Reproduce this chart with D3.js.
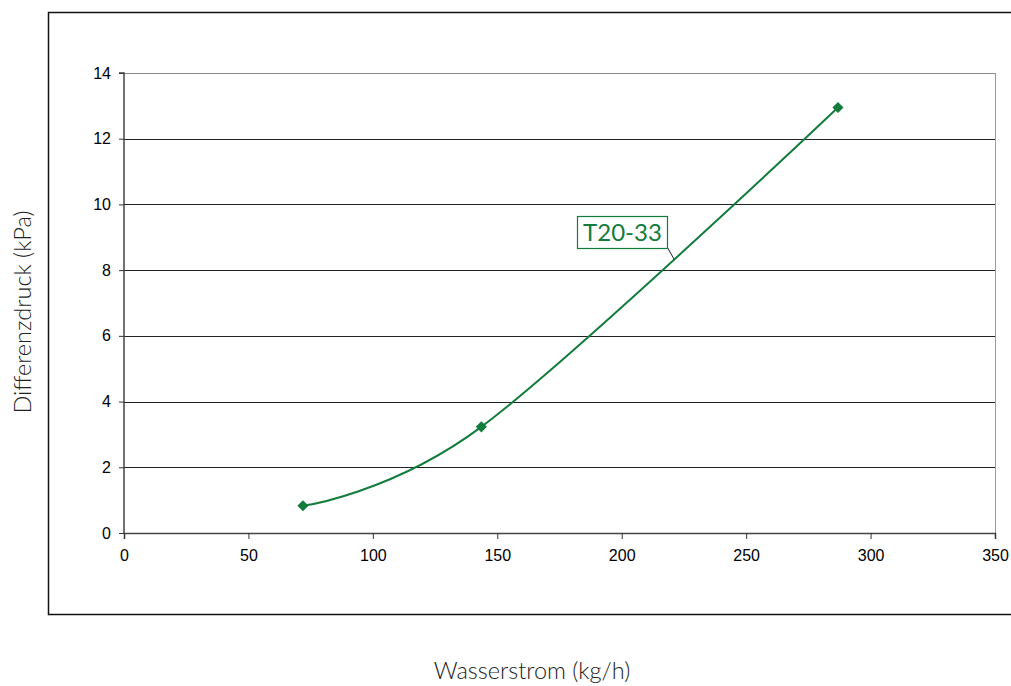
<!DOCTYPE html>
<html><head><meta charset="utf-8">
<script src="https://cdn.jsdelivr.net/npm/d3@7"></script>
<style>body{margin:0;background:#fff}svg{display:block}</style>
</head><body>
<svg id="c" width="1011" height="686"></svg>
<script>
const flow = [71.9, 143.6, 286.9];
const pressure = [0.83, 3.23, 12.95];
const seriesLabel = ["T20-33"];
const xTicks = [0, 50, 100, 150, 200, 250, 300, 350];
const yTicks = [0, 2, 4, 6, 8, 10, 12, 14];
const xTitle = "Wasserstrom (kg/h)";
const yTitle = "Differenzdruck (kPa)";

const svg = d3.select("#c");
const green = "#127c3c";
const x = d3.scaleLinear().domain([0, 350]).range([124, 995]);
const y = d3.scaleLinear().domain([0, 14]).range([533, 73]);

// outer frame
svg.append("path").attr("d", "M1011,12.5H48.5V614.5H1011")
  .attr("fill", "none").attr("stroke", "#111").attr("stroke-width", 1.5);

// gridlines
svg.append("g").selectAll("line").data(yTicks.filter(d => d > 0)).join("line")
  .attr("x1", x(0)).attr("x2", x(350))
  .attr("y1", d => Math.round(y(d)) + 0.5).attr("y2", d => Math.round(y(d)) + 0.5)
  .attr("stroke", d => d === 14 ? "#8a8a8a" : "#222").attr("stroke-width", 1);
// right border
svg.append("line").attr("x1", x(350) + 0.5).attr("x2", x(350) + 0.5)
  .attr("y1", y(14)).attr("y2", y(0)).attr("stroke", "#999");

// axes
const yAxis = d3.axisLeft(y).tickValues(yTicks).tickSize(5).tickPadding(8).tickFormat(d3.format("d"));
const xAxis = d3.axisBottom(x).tickValues(xTicks).tickSize(6).tickPadding(11).tickFormat(d3.format("d"));
const gy = svg.append("g").attr("transform", `translate(${x(0)},0)`).call(yAxis);
const gx = svg.append("g").attr("transform", `translate(0,${y(0)})`).call(xAxis);
[gx, gy].forEach(g => {
  g.select(".domain").attr("stroke", "#444").attr("stroke-width", 1.5);
  g.selectAll(".tick line").attr("stroke", "#333");
  g.selectAll("text").attr("font-family", "Liberation Sans, Arial, sans-serif")
    .attr("font-size", 16).attr("fill", "#000");
});
gy.select(".domain").attr("d", `M-5,${y(14)}H0V${y(0)}`);

// line
const pts = flow.map((f, i) => [x(f), y(pressure[i])]);
svg.append("path").attr("d", d3.line().curve(d3.curveCardinal.tension(0))(pts))
  .attr("fill", "none").attr("stroke", green).attr("stroke-width", 2);
svg.append("g").selectAll("path").data(pts).join("path")
  .attr("transform", d => `translate(${d[0]},${d[1]}) rotate(45)`)
  .attr("d", d3.symbol(d3.symbolSquare, 62)())
  .attr("fill", green);

// label
const lx = 577, ly = 216, lw = 90, lh = 32;
svg.append("line").attr("x1", 666).attr("y1", 245).attr("x2", 674).attr("y2", 259)
  .attr("stroke", "#222").attr("stroke-width", 1);
svg.append("rect").attr("x", lx + 0.5).attr("y", ly + 0.5).attr("width", lw).attr("height", lh)
  .attr("fill", "#fff").attr("stroke", green).attr("stroke-width", 1.2);
svg.append("text").attr("x", lx + lw / 2 + 0.5).attr("y", ly + 25).attr("text-anchor", "middle")
  .attr("font-family", "Lato, sans-serif").attr("font-size", 24).attr("fill", green)
  .text(seriesLabel[0]);

// titles
svg.append("text").attr("x", 532).attr("y", 679).attr("text-anchor", "middle")
  .attr("font-family", "Lato, sans-serif").attr("font-weight", 300).attr("font-size", 23.5).attr("fill", "#222")
  .text(xTitle);
svg.append("text").attr("transform", "translate(31,312) rotate(-90)").attr("text-anchor", "middle")
  .attr("font-family", "Lato, sans-serif").attr("font-weight", 300).attr("font-size", 23.5).attr("fill", "#222")
  .text(yTitle);
</script>
</body></html>
